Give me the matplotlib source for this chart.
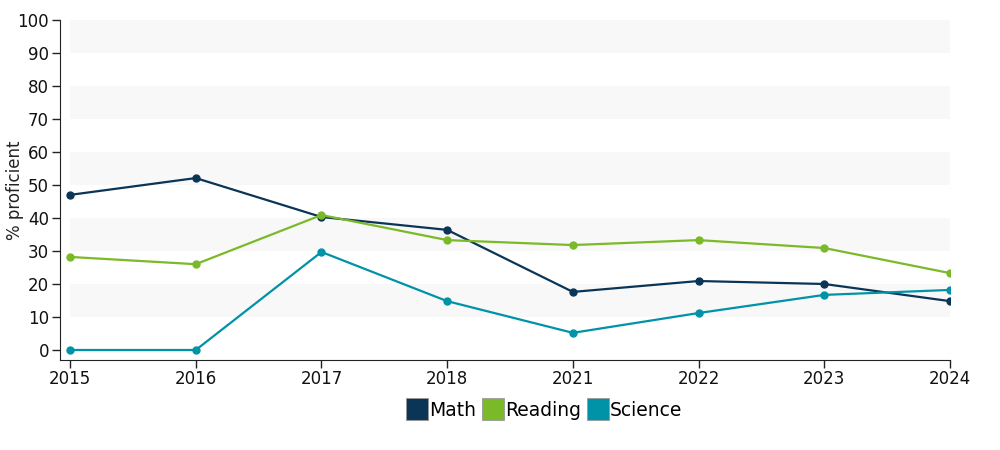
import matplotlib.pyplot as plt
from matplotlib.lines import Line2D

years = ["2015", "2016", "2017", "2018", "2021", "2022", "2023", "2024"]
math = [47.0, 52.1, 40.3, 36.4, 17.6, 20.9, 20.0, 14.8]
reading = [28.2, 26.0, 40.9, 33.3, 31.8, 33.3, 30.9, 23.3]
science = [0.0, 0.0, 29.7, 14.8, 5.2, 11.2, 16.7, 18.2]

series = [("Math", math, "#0b3556"),
          ("Reading", reading, "#7aba28"),
          ("Science", science, "#0093a8")]

fig = plt.figure(figsize=(10, 4.5), dpi=100)
ax = fig.add_axes([0.06, 0.2, 0.89, 0.7556])

x = list(range(len(years)))

# alternating grey bands
for lo in range(10, 100, 20):
    ax.fill_between([x[0], x[-1]], lo, lo + 10, color="#f8f8f8", lw=0, zorder=0)

for name, vals, col in series:
    ax.plot(x, vals, color=col, lw=1.6, marker="o", markersize=5, label=name, zorder=3)

ax.set_xlim(-0.08, x[-1])
ax.set_ylim(-3.03, 100)
ax.set_xticks(x)
ax.set_xticklabels(years)
ax.set_yticks(range(0, 101, 10))
ax.tick_params(axis="both", labelsize=12, colors="#222222", length=6, width=1)
ax.tick_params(axis="x", pad=1)
ax.tick_params(axis="y", pad=2)
for lab in ax.get_xticklabels() + ax.get_yticklabels():
    lab.set_color("#111111")

for s in ["top", "right"]:
    ax.spines[s].set_visible(False)
ax.spines["left"].set_color("#222222")
ax.spines["bottom"].set_color("#222222")

ax.set_ylabel("% proficient", fontsize=12, color="#222222")
ax.yaxis.set_label_coords(-0.040, 0.5)

handles = [Line2D([], [], ls="none", marker="s", markersize=16, markerfacecolor=c,
                  markeredgecolor="#999999", markeredgewidth=0.6) for _, _, c in series]
fig.legend(handles, [n for n, _, _ in series], loc="center", bbox_to_anchor=(0.545, 0.088),
           ncol=3, frameon=False, fontsize=13.5, handlelength=1.0, handletextpad=0.15,
           columnspacing=0.4)

fig.savefig("out.png", dpi=100)
